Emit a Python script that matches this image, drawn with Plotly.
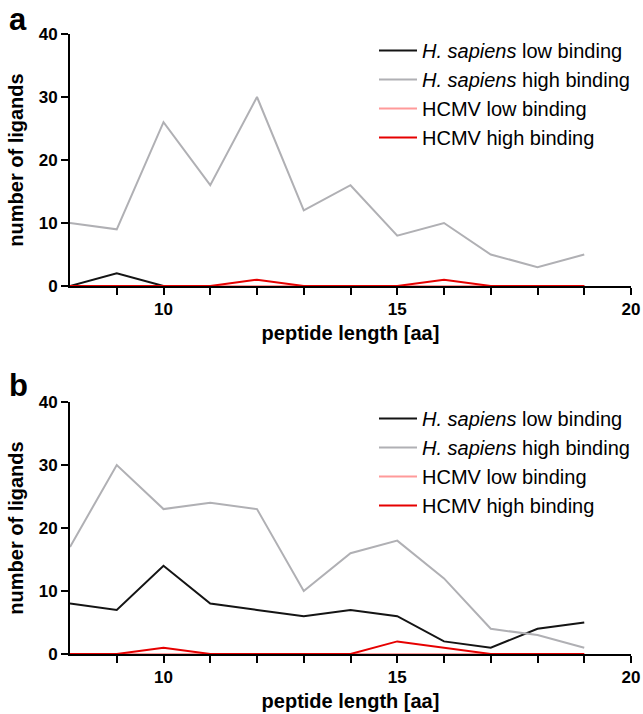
import plotly.graph_objects as go

lengths = [8, 9, 10, 11, 12, 13, 14, 15, 16, 17, 18, 19]

a_hs_low = [0, 2, 0, 0, 0, 0, 0, 0, 0, 0, 0, 0]
a_hs_high = [10, 9, 26, 16, 30, 12, 16, 8, 10, 5, 3, 5]
a_hcmv_low = [0, 0, 0, 0, 0, 0, 0, 0, 0, 0, 0, 0]
a_hcmv_high = [0, 0, 0, 0, 1, 0, 0, 0, 1, 0, 0, 0]

b_hs_low = [8, 7, 14, 8, 7, 6, 7, 6, 2, 1, 4, 5]
b_hs_high = [17, 30, 23, 24, 23, 10, 16, 18, 12, 4, 3, 1]
b_hcmv_low = [0, 0, 0, 0, 0, 0, 0, 0, 0, 0, 0, 0]
b_hcmv_high = [0, 0, 1, 0, 0, 0, 0, 2, 1, 0, 0, 0]

names = ["<i>H. sapiens</i> low binding", "<i>H. sapiens</i> high binding",
         "HCMV low binding", "HCMV high binding"]
colors = ["#141414", "#b0b0b4", "#ff9a9a", "#e60000"]

# page body margin is removed below, so figure pixels == screenshot pixels
W, H = 643, 714
LEFT, RIGHT, TOP, BOTTOM = 70, 631, 34, 654
ML, MR = LEFT, W - RIGHT
MT, MB = TOP, H - BOTTOM
PW, PH = W - ML - MR, H - MT - MB
FONT = "Liberation Sans, Arial, sans-serif"

def px_x(sx):
    return (sx - ML) / PW

def px_y(sy):
    return (H - MB - sy) / PH

fig = go.Figure()

panels = [
    ("x", "y", "legend", [a_hs_low, a_hs_high, a_hcmv_low, a_hcmv_high]),
    ("x2", "y2", "legend2", [b_hs_low, b_hs_high, b_hcmv_low, b_hcmv_high]),
]
for xa, ya, lg, series in panels:
    for name, col, vals in zip(names, colors, series):
        fig.add_trace(go.Scatter(
            x=lengths, y=vals, mode="lines", name=name,
            line=dict(color=col, width=2), xaxis=xa, yaxis=ya, legend=lg,
        ))

def xaxis(anchor):
    return dict(
        domain=[0, 1], anchor=anchor, range=[8, 20], automargin=False,
        tickvals=[10, 15, 20], ticks="outside", ticklen=7, tickwidth=2,
        tickcolor="black", showline=True, linecolor="black", linewidth=2,
        showgrid=False, zeroline=False, layer="below traces",
        tickfont=dict(family=FONT, size=17, color="black", weight="bold"),
        minor=dict(tickvals=[9, 11, 12, 13, 14, 16, 17, 18, 19], ticks="outside",
                   ticklen=7, tickwidth=2, tickcolor="black", showgrid=False),
        title=dict(text="<b>peptide length [aa]</b>", standoff=8,
                   font=dict(family=FONT, size=20, color="black")),
    )

def yaxis(anchor, top, bot):
    return dict(
        domain=[px_y(bot), px_y(top)], anchor=anchor, range=[0, 40], automargin=False,
        tickvals=[0, 10, 20, 30, 40], ticks="outside", ticklen=7, tickwidth=2,
        tickcolor="black", showline=True, linecolor="black", linewidth=2,
        showgrid=False, zeroline=False, layer="below traces",
        tickfont=dict(family=FONT, size=17, color="black", weight="bold"),
        title=dict(text="<b>number of ligands</b>", standoff=10,
                   font=dict(family=FONT, size=20, color="black")),
    )

def legend(top):
    return dict(
        x=px_x(374), y=px_y(top), xanchor="left", yanchor="top",
        bgcolor="rgba(0,0,0,0)", tracegroupgap=0, itemwidth=38,
        font=dict(family=FONT, size=20, color="black"),
    )

def panel_label(text, sx, sy_top):
    return dict(text="<b>" + text + "</b>", x=px_x(sx), y=px_y(sy_top),
                xref="paper", yref="paper", xanchor="left", yanchor="top",
                showarrow=False, font=dict(family=FONT, size=31, color="black"))

fig.update_layout(
    width=W, height=H,
    margin=dict(l=ML, r=MR, t=MT, b=MB, autoexpand=False),
    paper_bgcolor="white", plot_bgcolor="white",
    xaxis=xaxis("y"), yaxis=yaxis("x", TOP, 286),
    xaxis2=xaxis("y2"), yaxis2=yaxis("x2", 402, BOTTOM),
    legend=legend(31),
    legend2=legend(399),
    annotations=[panel_label("a", 7, 0), panel_label("b", 7, 366)],
)

fig.write_html(
    "out.html",
    config={"displayModeBar": False},
    post_script="document.body.style.margin='0px';document.body.style.overflow='hidden';",
)
